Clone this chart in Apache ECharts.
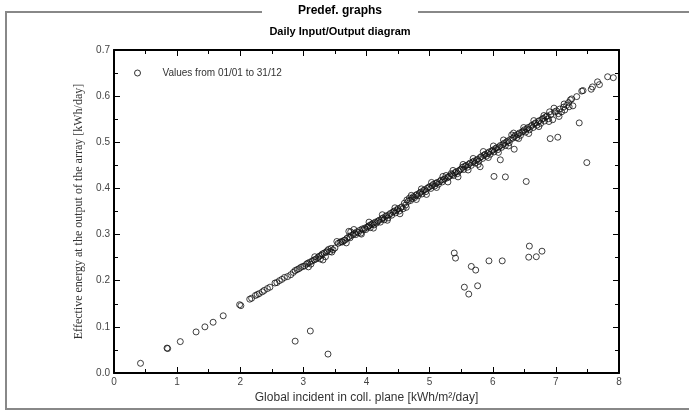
<!DOCTYPE html>
<html><head><meta charset="utf-8">
<script src="https://cdn.jsdelivr.net/npm/echarts@6/dist/echarts.min.js"></script>
<style>html,body{margin:0;padding:0;background:#fff}#c{width:689px;height:414px}</style>
</head><body><div id="c"></div>
<script>
var pageTitle = "Predef. graphs";
var chartTitle = "Daily Input/Output diagram";
var legendLabel = "Values from 01/01 to 31/12";
var xAxisName = "Global incident in coll. plane [kWh/m\u00b2/day]";
var yAxisName = "Effective energy at the output of the array [kWh/day]";
var xTicks = [0,1,2,3,4,5,6,7,8];
var yTicks = [0.0,0.1,0.2,0.3,0.4,0.5,0.6,0.7];

var pointsLow = [[0.42,0.021],[0.84,0.054],[0.85,0.053],[1.05,0.068],[1.30,0.089],[1.44,0.100],[1.57,0.110],[1.73,0.124],[1.99,0.148],[2.01,0.146]];
var points2to3 = [[2.15,0.160],[2.18,0.162],[2.24,0.168],[2.27,0.170],[2.30,0.172],[2.35,0.176],[2.38,0.179],[2.43,0.183],[2.47,0.186],[2.55,0.195],[2.58,0.196],[2.62,0.200],[2.66,0.203],[2.70,0.207],[2.75,0.209],[2.80,0.213],[2.84,0.218],[2.87,0.222],[2.90,0.224],[2.93,0.226],[2.96,0.229],[2.99,0.231]];
var points3to4 = [[3.02,0.232],[3.05,0.236],[3.07,0.238],[3.10,0.240],[3.12,0.236],[3.14,0.243],[3.17,0.245],[3.20,0.247],[3.23,0.250],[3.25,0.253],[3.28,0.255],[3.30,0.258],[3.31,0.245],[3.33,0.260],[3.35,0.252],[3.36,0.262],[3.38,0.265],[3.40,0.268],[3.42,0.263],[3.44,0.270],[3.47,0.267],[3.50,0.271],[3.55,0.281],[3.58,0.283],[3.60,0.285],[3.62,0.284],[3.64,0.287],[3.66,0.288],[3.69,0.292],[3.72,0.295],[3.72,0.307],[3.74,0.293],[3.75,0.306],[3.76,0.298],[3.79,0.300],[3.81,0.303],[3.83,0.300],[3.85,0.306],[3.87,0.304],[3.89,0.309],[3.91,0.303],[3.93,0.312],[3.95,0.310],[3.97,0.314],[3.99,0.311]];
var points4to5 = [[4.01,0.316],[4.03,0.318],[4.05,0.320],[4.06,0.315],[4.08,0.322],[4.10,0.324],[4.12,0.321],[4.14,0.327],[4.16,0.325],[4.18,0.329],[4.20,0.331],[4.22,0.327],[4.24,0.334],[4.26,0.336],[4.28,0.332],[4.30,0.339],[4.32,0.341],[4.34,0.336],[4.36,0.343],[4.38,0.346],[4.40,0.342],[4.42,0.349],[4.44,0.351],[4.46,0.347],[4.48,0.353],[4.50,0.356],[4.52,0.351],[4.54,0.358],[4.56,0.360],[4.58,0.356],[4.60,0.368],[4.62,0.364],[4.64,0.375],[4.66,0.372],[4.68,0.379],[4.70,0.374],[4.72,0.378],[4.74,0.382],[4.76,0.380],[4.78,0.385],[4.80,0.387],[4.82,0.384],[4.84,0.390],[4.86,0.392],[4.88,0.388],[4.90,0.395],[4.92,0.397],[4.94,0.393],[4.96,0.400],[4.98,0.402]];
var points5to6 = [[5.00,0.404],[5.02,0.400],[5.04,0.406],[5.06,0.409],[5.08,0.405],[5.10,0.411],[5.12,0.413],[5.14,0.409],[5.16,0.415],[5.18,0.418],[5.20,0.414],[5.22,0.419],[5.24,0.421],[5.26,0.428],[5.28,0.423],[5.30,0.425],[5.32,0.427],[5.34,0.432],[5.36,0.430],[5.38,0.428],[5.40,0.434],[5.42,0.436],[5.44,0.432],[5.46,0.438],[5.48,0.440],[5.50,0.442],[5.52,0.446],[5.54,0.441],[5.56,0.448],[5.58,0.450],[5.60,0.446],[5.62,0.452],[5.64,0.455],[5.66,0.450],[5.68,0.457],[5.70,0.459],[5.72,0.455],[5.74,0.461],[5.76,0.463],[5.78,0.459],[5.80,0.467],[5.80,0.447],[5.82,0.469],[5.84,0.465],[5.86,0.472],[5.88,0.474],[5.90,0.470],[5.92,0.476],[5.94,0.479],[5.96,0.474],[5.98,0.481]];
var points6to7 = [[6.00,0.483],[6.02,0.479],[6.04,0.486],[6.06,0.488],[6.08,0.484],[6.10,0.490],[6.12,0.493],[6.14,0.489],[6.16,0.495],[6.18,0.498],[6.20,0.493],[6.22,0.501],[6.24,0.503],[6.26,0.499],[6.28,0.506],[6.30,0.516],[6.32,0.509],[6.34,0.512],[6.36,0.515],[6.38,0.510],[6.40,0.517],[6.42,0.520],[6.44,0.515],[6.46,0.522],[6.48,0.524],[6.50,0.527],[6.52,0.522],[6.54,0.529],[6.56,0.532],[6.58,0.527],[6.60,0.534],[6.62,0.537],[6.64,0.532],[6.66,0.540],[6.68,0.542],[6.70,0.537],[6.72,0.545],[6.74,0.547],[6.76,0.541],[6.78,0.550],[6.80,0.552],[6.82,0.546],[6.84,0.555],[6.86,0.557],[6.88,0.551],[6.90,0.566],[6.92,0.560],[6.95,0.549],[6.98,0.566]];
var points7to8 = [[7.01,0.568],[7.04,0.562],[7.06,0.572],[7.09,0.566],[7.12,0.576],[7.14,0.570],[7.17,0.580],[7.20,0.586],[7.23,0.592],[7.25,0.594],[7.27,0.579],[7.33,0.599],[7.41,0.611],[7.43,0.612],[7.56,0.615],[7.58,0.620],[7.66,0.631],[7.69,0.625],[7.82,0.642],[7.91,0.640]];
var pointsSpread = [[3.08,0.230],[3.18,0.252],[3.27,0.247],[3.45,0.262],[3.53,0.285],[3.68,0.282],[3.80,0.311],[3.92,0.301],[4.04,0.327],[4.11,0.314],[4.25,0.343],[4.33,0.331],[4.45,0.358],[4.53,0.345],[4.63,0.359],[4.71,0.385],[4.79,0.376],[4.87,0.399],[4.95,0.387],[5.03,0.413],[5.11,0.402],[5.21,0.426],[5.29,0.414],[5.37,0.439],[5.45,0.425],[5.53,0.452],[5.61,0.440],[5.69,0.465],[5.77,0.452],[5.85,0.480],[5.93,0.467],[6.01,0.492],[6.09,0.478],[6.17,0.505],[6.25,0.492],[6.33,0.520],[6.41,0.508],[6.49,0.532],[6.57,0.519],[6.65,0.547],[6.73,0.534],[6.81,0.558],[6.89,0.545],[6.97,0.574],[7.05,0.556],[7.13,0.583],[7.21,0.577]];
var outliers = [[2.87,0.069],[3.11,0.091],[3.39,0.041],[5.39,0.260],[5.41,0.249],[5.55,0.186],[5.62,0.171],[5.66,0.231],[5.73,0.223],[5.76,0.189],[5.94,0.243],[6.15,0.243],[6.58,0.275],[6.57,0.251],[6.69,0.252],[6.78,0.264],[6.02,0.426],[6.20,0.425],[6.53,0.415],[6.12,0.462],[6.34,0.485],[6.91,0.508],[7.03,0.511],[7.37,0.542],[7.49,0.456]];

var allPoints = [].concat(pointsLow, points2to3, points3to4, points4to5, points5to6, points6to7, points7to8, pointsSpread, outliers);

var chart = echarts.init(document.getElementById('c'), null, {renderer:'canvas'});
var tickColor = '#000';
var labelStyle = {color:'#444', fontFamily:'Liberation Sans, Arial, sans-serif', fontSize:10};
function baseX(show, pos){
  return {type:'value', min:xTicks[0], max:xTicks[xTicks.length-1], interval:1, position:pos,
    axisLine:{show:true, onZero:false, lineStyle:{color:tickColor, width:2}},
    axisTick:{show:true, inside:true, length:6, lineStyle:{color:tickColor}},
    minorTick:{show:true, splitNumber:2, length:4, lineStyle:{color:tickColor}},
    axisLabel:Object.assign({show:show, margin:4, formatter:function(v){return String(v);}}, labelStyle),
    splitLine:{show:false}};
}
function baseY(show, pos){
  return {type:'value', min:yTicks[0], max:yTicks[yTicks.length-1], interval:0.1, position:pos,
    axisLine:{show:true, onZero:false, lineStyle:{color:tickColor, width:2}},
    axisTick:{show:true, inside:true, length:6, lineStyle:{color:tickColor}},
    minorTick:{show:true, splitNumber:2, length:4, lineStyle:{color:tickColor}},
    axisLabel:Object.assign({show:show, margin:4, formatter:function(v){return v.toFixed(1);}}, labelStyle),
    splitLine:{show:false}};
}
var x0 = baseX(true,'bottom');
x0.name = xAxisName; x0.nameLocation='middle'; x0.nameGap=17;
x0.nameTextStyle = {color:'#333', fontFamily:'Liberation Sans, Arial, sans-serif', fontSize:12};
var y0 = baseY(true,'left');
y0.name = yAxisName; y0.nameLocation='middle'; y0.nameGap=20; y0.nameRotate=90;
y0.nameTextStyle = {color:'#333', fontFamily:'Liberation Serif, Times New Roman, serif', fontSize:12};

chart.setOption({
  animation:false,
  backgroundColor:'#fff',
  grid:{left:114, right:70, top:50, bottom:41},
  xAxis:[x0, baseX(false,'top')],
  yAxis:[y0, baseY(false,'right')],
  legend:{show:true, left:129, top:63, itemWidth:10, itemHeight:6, itemGap:4,
    textStyle:{color:'#333', fontFamily:'Liberation Sans, Arial, sans-serif', fontSize:10, padding:[0,0,0,15]},
    data:[{name:legendLabel, icon:'circle', itemStyle:{color:'#fff', borderColor:'#000', borderWidth:1}}]},
  graphic:[
    {type:'rect', silent:true, shape:{x:6, y:12, width:700, height:397},
      style:{fill:'none', stroke:'#888', lineWidth:2}, z:0},
    {type:'rect', silent:true, shape:{x:262, y:2, width:156, height:18}, style:{fill:'#fff'}, z:1},
    {type:'text', silent:true, x:340, y:11, z:2, style:{text:pageTitle, fill:'#000', font:'bold 12px Liberation Sans, Arial, sans-serif', textAlign:'center', textVerticalAlign:'middle'}},
    {type:'text', silent:true, x:340, y:32, z:2, style:{text:chartTitle, fill:'#000', font:'bold 11px Liberation Sans, Arial, sans-serif', textAlign:'center', textVerticalAlign:'middle'}}
  ],
  series:[{
    name:legendLabel, type:'scatter', xAxisIndex:0, yAxisIndex:0,
    symbol:'circle', symbolSize:6,
    itemStyle:{color:'rgba(255,255,255,0)', borderColor:'#111', borderWidth:1},
    data:allPoints
  }]
});
</script></body></html>
